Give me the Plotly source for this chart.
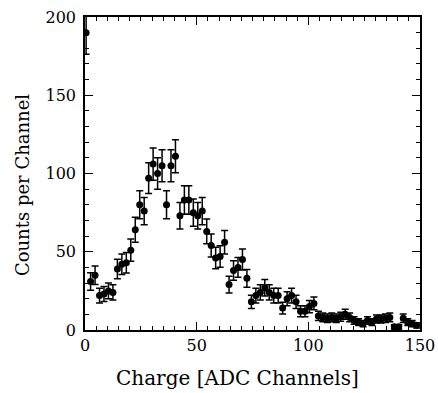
import plotly.graph_objects as go

# ADC charge spectrum: bin centres (2-channel bins), counts and statistical errors
channels = [0.5 + 2 * k for k in range(75)]
counts = [
    190, 31, 35, 22, 23, 25, 24, 39, 42, 43,
    51, 64, 80, 76, 97, 106, 100, 105, 80, 105,
    111, 73, 83, 83, 75, 73, 76, 63, 54, 46,
    47, 56, 29, 38, 40, 45, 33, 18, 22, 24,
    27, 24, 22, 22, 14, 20, 22, 18, 12, 12,
    15, 17, 9, 8, 7.5, 8, 7.5, 8.5, 10, 8,
    6, 5, 4, 6, 5, 7, 7, 7.5, 8, 2,
    2, 7.5, 5, 4, 3,
]
errors = [
    13.8, 5.6, 5.9, 4.7, 4.8, 5.0, 4.9, 6.2, 6.5, 6.6,
    7.1, 8.0, 8.9, 8.7, 9.8, 10.3, 10.0, 10.2, 8.9, 10.2,
    10.5, 8.5, 9.1, 9.1, 8.7, 8.5, 8.7, 7.9, 7.3, 6.8,
    6.9, 7.5, 5.4, 6.2, 6.3, 6.7, 5.7, 4.2, 4.7, 4.9,
    5.2, 4.9, 4.7, 4.7, 3.7, 4.5, 4.7, 4.2, 3.5, 3.5,
    3.9, 4.1, 3.0, 2.8, 2.7, 2.8, 2.7, 2.9, 3.2, 2.8,
    2.4, 2.2, 2.0, 2.4, 2.2, 2.6, 2.6, 2.7, 2.8, 1.4,
    1.4, 2.7, 2.2, 2.0, 1.7,
]

x_ticks = [0, 50, 100, 150]
y_ticks = [0, 50, 100, 150, 200]
x_title = "Charge [ADC Channels]"
y_title = "Counts per Channel"

FONT = "DejaVu Serif"

fig = go.Figure(
    go.Scatter(
        x=channels,
        y=counts,
        mode="markers",
        marker=dict(color="black", size=7),
        error_y=dict(type="data", array=errors, visible=True,
                     color="black", thickness=1.5, width=3.5),
        showlegend=False,
    )
)

axis_common = dict(
    showline=True, linecolor="black", linewidth=1.5, mirror="allticks",
    ticks="inside", ticklen=8, tickwidth=1.2, tickcolor="black",
    showgrid=False, zeroline=False, automargin=False,
    tickfont=dict(family=FONT, size=16, color="black"),
)

fig.update_xaxes(
    range=[0, 150], tickvals=x_ticks,
    minor=dict(dtick=5, ticks="inside", ticklen=4, tickwidth=1, tickcolor="black"),
    **axis_common,
)
fig.update_yaxes(
    range=[0, 200], tickvals=y_ticks, ticklabelstandoff=4,
    minor=dict(dtick=10, ticks="inside", ticklen=4, tickwidth=1, tickcolor="black"),
    **axis_common,
)

# Axis titles placed as paper-referenced annotations
fig.add_annotation(text=x_title, xref="paper", yref="paper", x=0.454, y=-0.153,
                   xanchor="center", yanchor="middle", showarrow=False,
                   font=dict(family=FONT, size=20, color="black"))
fig.add_annotation(text=y_title, xref="paper", yref="paper", x=-0.188, y=0.463,
                   xanchor="center", yanchor="middle", showarrow=False, textangle=-90,
                   font=dict(family=FONT, size=18, color="black"))

fig.update_layout(
    width=438, height=393,
    margin=dict(l=85, r=18, t=17, b=63),
    paper_bgcolor="white", plot_bgcolor="white",
)

fig.write_html("out.html")
